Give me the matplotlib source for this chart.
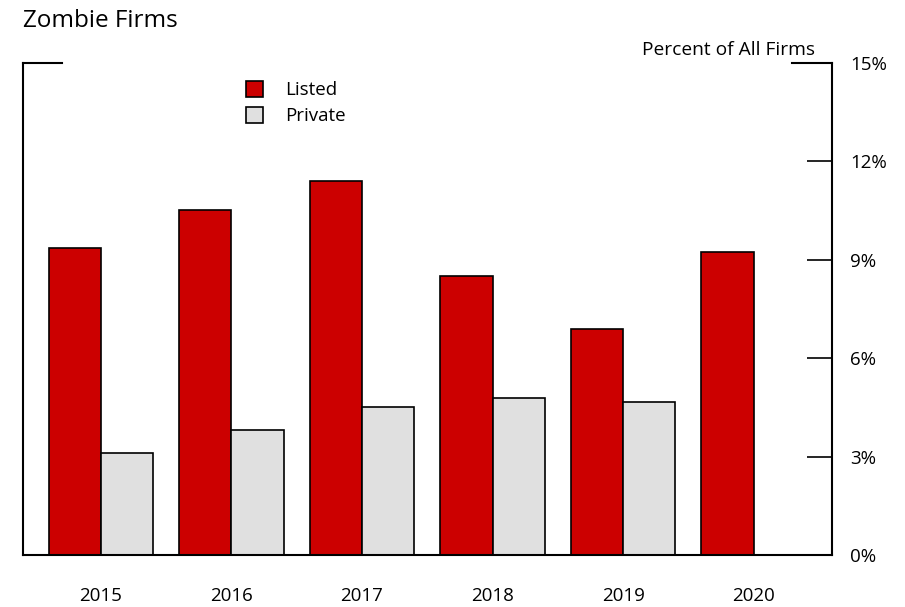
import numpy as np
import matplotlib.pyplot as plt
from matplotlib.lines import Line2D

plt.rcParams['font.family'] = ['Open Sans', 'DejaVu Sans']

# data
years = ['2015', '2016', '2017', '2018', '2019', '2020']
listed = [9.36, 10.52, 11.40, 8.51, 6.89, 9.24]
private = [3.11, 3.81, 4.51, 4.79, 4.66, np.nan]
y_ticks = [0, 3, 6, 9, 12, 15]
y_labels = ['0%', '3%', '6%', '9%', '12%', '15%']

red = '#CC0000'
grey = '#E0E0E0'

fig = plt.figure(figsize=(9.05, 6.07), dpi=100)
ax = fig.add_axes([0.0249, 0.0857, 0.8945, 0.8105])

x = np.arange(len(years))
w = 0.4
ax.bar(x - w / 2, listed, w, color=red, edgecolor='black', linewidth=1.2, label='Listed')
ax.bar(x + w / 2, private, w, color=grey, edgecolor='black', linewidth=1.2, label='Private')

ax.set_xlim(-0.6, 5.6)
ax.set_ylim(0, 15)

# right axis ticks, pointing inward
ax.yaxis.tick_right()
ax.set_yticks(y_ticks)
ax.set_yticklabels(y_labels)
ax.tick_params(axis='y', direction='in', length=18, width=1.2, pad=13, labelsize=13.5)
ax.set_xticks(x)
ax.set_xticklabels(years)
ax.tick_params(axis='x', length=0, pad=23, labelsize=13.5)

for s in ['left', 'right', 'bottom']:
    ax.spines[s].set_linewidth(1.5)
ax.spines['top'].set_visible(False)

# short stubs of the top border at both corners
ax.add_line(Line2D([0, 0.049], [1, 1], transform=ax.transAxes, color='black',
                   linewidth=1.5, clip_on=False))
ax.add_line(Line2D([0.951, 1], [1, 1], transform=ax.transAxes, color='black',
                   linewidth=1.5, clip_on=False))

fig.text(0.0249, 0.965, 'Zombie Firms', fontsize=17.5, ha='left', va='center')
fig.text(0.901, 0.917, 'Percent of All Firms', fontsize=13.8, ha='right', va='center')

ax.legend(loc='upper left', bbox_to_anchor=(0.262, 0.882), bbox_transform=fig.transFigure,
          frameon=False, fontsize=13.5, handlelength=0.9, handleheight=0.9,
          handletextpad=1.15, labelspacing=0.42, borderpad=0)

fig.savefig('out.png', dpi=100)
